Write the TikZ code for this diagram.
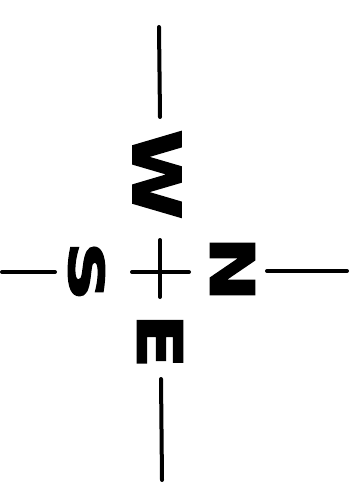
\documentclass[tikz,border=0pt]{standalone}
\usepackage{fontspec}
\setmainfont{DejaVu Sans}
\newfontfamily\heavyfont[FakeBold=2.5]{DejaVu Sans Bold}
\usepackage{graphicx}
\tikzset{
  stroke/.style={line width=4pt, line cap=round},
  letter/.style={inner sep=0pt, outer sep=0pt, rotate=-90},
}
\newcommand{\heavyletter}[3]{\resizebox{#1pt}{#2pt}{\heavyfont #3}}
\begin{document}
\begin{tikzpicture}[x=1pt,y=-1pt]
\useasboundingbox[fill=white] (0,0) rectangle (362,492);
% letters (width = vertical extent after rotation, height = horizontal extent)
\node[letter] (W) at (157,174.5) {\heavyletter{90}{48}{W}};
\node[letter] (S) at (86.5,271.5) {\heavyletter{60}{36}{S}};
\node[letter] (N) at (232.5,269) {\heavyletter{65}{44}{N}};
\node[letter] (E) at (160,341) {\heavyletter{55}{45}{E}};
% line ends
\coordinate (t1) at (159,27);  \coordinate (t2) at (160,117);
\coordinate (b1) at (161,379); \coordinate (b2) at (162,480);
\coordinate (l1) at (2,272);   \coordinate (l2) at (55,272);
\coordinate (r1) at (267,271); \coordinate (r2) at (347,271);
\coordinate (ch1) at (132,272); \coordinate (ch2) at (189,272);
\coordinate (cv1) at (160,240); \coordinate (cv2) at (160,297);
\draw[stroke] (t1) -- (t2);
\draw[stroke] (b1) -- (b2);
\draw[stroke] (l1) -- (l2);
\draw[stroke] (r1) -- (r2);
\draw[stroke] (ch1) -- (ch2);
\draw[stroke] (cv1) -- (cv2);
\end{tikzpicture}
\end{document}
